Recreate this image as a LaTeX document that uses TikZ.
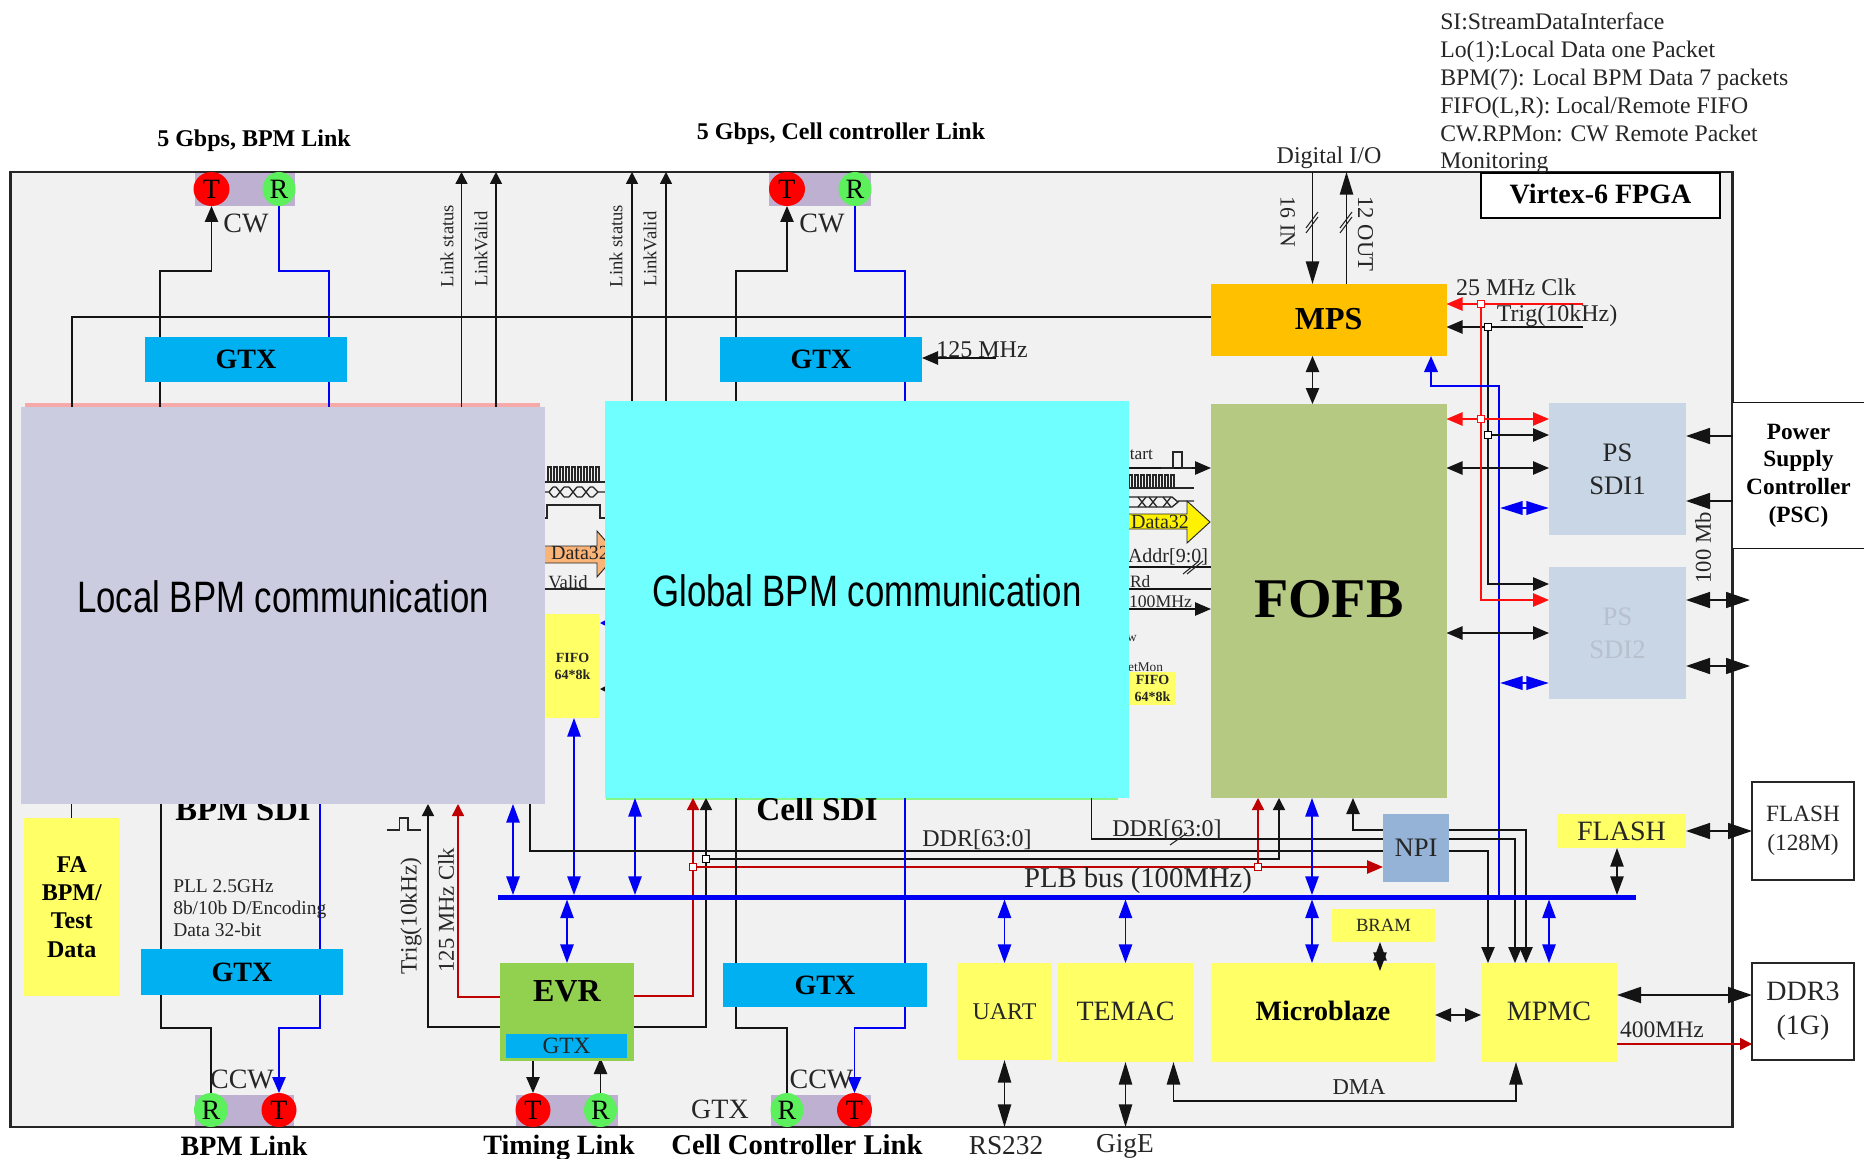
\documentclass[tikz,border=0pt]{standalone}
\usepackage{fontspec}
\setmainfont{Liberation Serif}
\newfontfamily\narrowsans[FakeStretch=0.79]{Liberation Sans}
\usetikzlibrary{arrows.meta,shapes.geometric}
\pgfdeclarelayer{framelayer}
\pgfdeclarelayer{lines}
\pgfdeclarelayer{over}
\pgfsetlayers{framelayer,lines,main,over}
\definecolor{txc}{HTML}{262626}
\definecolor{fr}{HTML}{F1F1F1}
\definecolor{gtxc}{HTML}{00B0F0}
\definecolor{ye}{HTML}{FFFF66}
\definecolor{psb}{HTML}{C8D6E6}
\definecolor{busb}{HTML}{0000F5}
\definecolor{barc}{HTML}{BEB0D0}
\definecolor{redc}{HTML}{FF1010}
\definecolor{dred}{HTML}{C00000}
\definecolor{grn}{HTML}{5CF05C}
\tikzset{
  bxs/.style={rectangle,inner sep=0,outer sep=0,text=txc},
  tx/.style={font=\fontsize{#1}{#1}\selectfont,inner sep=0,outer sep=0,text=txc},
  bd/.style={font=\fontsize{#1}{#1}\selectfont\bfseries,inner sep=0,outer sep=0,text=black},
  blk/.style={draw=black!92,line width=1.1pt},
  blu/.style={draw=busb,line width=1.1pt},
  redl/.style={draw=redc,line width=1.1pt},
  dredl/.style={draw=dred,line width=1.1pt},
  tipL/.style={>={Triangle[length=18pt,width=12pt]}},
  tipM/.style={>={Triangle[length=12pt,width=10pt]}},
  tipS/.style={>={Triangle[length=9pt,width=9pt]}},
  tipB/.style={>={Triangle[length=14pt,width=10pt]}},
  tipD/.style={>={Triangle[length=17pt,width=10pt]}},
  wave/.style={draw=black!85,line width=1pt},
  sqnode/.style={rectangle,inner sep=0,outer sep=0,minimum size=5pt,fill=white,line width=.9pt},
  pinnode/.style={ellipse,inner sep=0,outer sep=0,text=black,font=\fontsize{21}{21}\selectfont},
}
\newcommand{\mybox}[7]{%
  \pgfmathsetmacro{\bxc}{(#2+#4)/2}\pgfmathsetmacro{\byc}{(#3+#5)/2}%
  \pgfmathsetmacro{\bxw}{(#4-#2)*0.75}\pgfmathsetmacro{\bxh}{(#5-#3)*0.75}%
  \node[bxs,#6,minimum width=\bxw pt,minimum height=\bxh pt] (#1) at (\bxc,\byc) {#7};}
\newcommand{\mypin}[5]{%
  \pgfmathsetmacro{\pw}{#3*0.75}%
  \node[pinnode,fill=#4,minimum width=\pw pt,minimum height=25.5pt] (#1) at #2 {#5};}
\begin{document}
\begin{tikzpicture}[x=0.75pt,y=-0.75pt]
\useasboundingbox (0,0) rectangle (1864,1159);
% ---------- background layer
\begin{pgfonlayer}{framelayer}
  \fill[white] (0,0) rectangle (1864,1159);
  \mybox{frame}{10.5}{172}{1732.5}{1127}{fill=fr}{}
  \mybox{pinkstrip}{24.5}{403}{540}{408}{fill=red!30!fr}{}
  \mybox{greenstrip}{606}{797}{1118}{800}{fill=green!45!fr}{}
  \mybox{lnkA}{194.5}{172}{295}{206}{fill=barc}{}
  \mybox{lnkB}{769}{172}{871}{206}{fill=barc}{}
  \mybox{lnkC}{195}{1095}{294}{1127}{fill=barc}{}
  \mybox{lnkD}{516}{1095}{617.5}{1127}{fill=barc}{}
  \mybox{lnkE}{771}{1095}{870.5}{1127}{fill=barc}{}
\end{pgfonlayer}
% ---------- blocks
\mybox{gtxa}{145}{337}{347}{382}{fill=gtxc,bd=21}{GTX}
\mybox{gtxb}{720}{337}{922}{382}{fill=gtxc,bd=21}{GTX}
\mybox{gtxc}{141}{949}{343}{995}{fill=gtxc,bd=21}{GTX}
\mybox{gtxd}{723}{963}{927}{1007}{fill=gtxc,bd=21}{GTX}
\mybox{evr}{500}{963}{634}{1061}{fill={rgb,255:red,146;green,208;blue,80},bd=24,text depth=31pt}{EVR}
\mybox{evrg}{506}{1034}{627}{1058}{fill=gtxc,tx=17.5}{GTX}
\mybox{mps}{1211}{284}{1446.5}{356}{fill={rgb,255:red,255;green,192;blue,0},bd=24,text depth=2pt}{MPS}
\mybox{fofb}{1211}{404}{1446.5}{798}{fill={rgb,255:red,181;green,201;blue,131},bd=42,text depth=3pt}{FOFB}
\mybox{sdia}{1549}{403}{1686}{535}{fill=psb,font=\fontsize{20}{25}\selectfont,align=center}{PS\\SDI1}
\mybox{sdib}{1549}{567}{1686}{699}{fill=psb,text={rgb,255:red,185;green,192;blue,205},font=\fontsize{20}{25}\selectfont,align=center}{PS\\SDI2}
\mybox{fa}{24}{818}{119.5}{996}{fill=ye,font=\fontsize{18}{21.2}\selectfont\bfseries,align=center,text=black}{FA\\BPM/\\Test\\Data}
\mybox{fifol}{545}{614}{600}{718}{fill=ye,font=\fontsize{10.5}{12.7}\selectfont\bfseries,align=center}{FIFO\\64*8k}
\mybox{fifor}{1129}{672}{1176}{705}{fill=ye,font=\fontsize{10.5}{12.7}\selectfont\bfseries,align=center}{FIFO\\64*8k}
\mybox{npi}{1383}{814}{1449}{882}{fill={rgb,255:red,149;green,179;blue,215},tx=20}{NPI}
\mybox{flash}{1557}{814}{1686}{848}{fill=ye,tx=21}{FLASH}
\mybox{bram}{1332}{909}{1435}{942}{fill=ye,tx=14}{BRAM}
\mybox{uart}{957}{963}{1052}{1060}{fill=ye,tx=18}{UART}
\mybox{temac}{1058}{963}{1193}{1062}{fill=ye,tx=21,text depth=2pt}{TEMAC}
\mybox{mblaze}{1211}{963}{1435}{1062}{fill=ye,bd=21,text depth=3pt}{Microblaze}
\mybox{mpmc}{1481}{963}{1617}{1062}{fill=ye,tx=21,text depth=2pt}{MPMC}
\mybox{flashx}{1752}{782}{1854}{880}{draw=black!85,line width=1.1pt,fill=white,font=\fontsize{17.5}{21.5}\selectfont,align=center}{FLASH\\(128M)}
\mybox{ddr}{1752}{963}{1854}{1060}{draw=black!85,line width=1.1pt,fill=white,font=\fontsize{21}{25.5}\selectfont,align=center}{DDR3\\(1G)}
\mybox{virtex}{1481}{173}{1720}{218}{draw=black,line width=1.1pt,fill=white,bd=21,text depth=3pt}{Virtex-6 FPGA}
\mybox{psc}{1733}{403}{1864}{548}{fill=white,font=\fontsize{17.5}{20.8}\selectfont\bfseries,align=center,text=black,text width=96pt}{Power\\Supply\\Controller\\(PSC)}
\mybox{bus}{498}{895}{1636}{899.5}{fill=busb}{}
% link pins
\mypin{pinTa}{(211.5,189)}{36}{red}{T}
\mypin{pinRa}{(279,189)}{33}{grn}{R}
\mypin{pinTb}{(787,189)}{36}{red}{T}
\mypin{pinRb}{(855,189)}{33}{grn}{R}
\mypin{pinRc}{(211,1110)}{34}{grn}{R}
\mypin{pinTc}{(279,1110)}{35}{red}{T}
\mypin{pinTd}{(533,1110)}{35}{red}{T}
\mypin{pinRd}{(600.5,1110)}{33}{grn}{R}
\mypin{pinRe}{(787,1110)}{33}{grn}{R}
\mypin{pinTe}{(854.5,1110)}{35}{red}{T}
% squares
\node[sqnode,draw=redc] (sqa) at (1481,304) {};
\node[sqnode,draw=black] (sqb) at (1488,327) {};
\node[sqnode,draw=redc] (sqc) at (1481,419) {};
\node[sqnode,draw=black] (sqd) at (1488,435) {};
\node[sqnode,draw=dred] (sqe) at (693,867) {};
\node[sqnode,draw=black] (sqf) at (706,859) {};
\node[sqnode,draw=dred] (sqg) at (1258,867) {};
% free ends
\coordinate (clkIn) at (1583,304);
\coordinate (trigIn) at (1583,327);
\coordinate (extC) at (1750,600);
\coordinate (extD) at (1750,666);
\coordinate (bramTip) at (1380,971);
\coordinate (clkGtx) at (996,358);
\coordinate (blueA) at (1500,508);
\coordinate (blueB) at (1500,683);
% ---------- cover blocks
\begin{pgfonlayer}{over}
  \mybox{local}{20.5}{407}{545}{804}{fill={rgb,255:red,203;green,204;blue,224}}{}
  \mybox{global}{605}{401}{1129}{798}{fill={rgb,255:red,112;green,255;blue,255}}{}
  \node[font=\fontsize{33}{33}\narrowsans,text=black,inner sep=0] (localT) at (283,597) {Local BPM communication};
  \node[font=\fontsize{33}{33}\narrowsans,text=black,inner sep=0] (globalT) at (867,591) {Global BPM communication};
\end{pgfonlayer}
% ---------- connectors
\begin{pgfonlayer}{lines}
  \draw[line width=2pt,draw=black!85] (frame.north west) rectangle (frame.south east);
  \draw[blk] (psc.north west) -- (psc.north east) (psc.south west) -- (psc.south east);
  % top BPM link
  \draw[blk,tipM,->] (gtxa.north -| 160,0) -- (160,271) -| (pinTa.south);
  \draw[blu] (pinRa.south) -- (279,271) -| (gtxa.north -| 329,0);
  \draw[blk] (gtxa.south -| 160,0) -- (local.north -| 160,0);
  \draw[blu] (gtxa.south -| 329,0) -- (local.north -| 329,0);
  \draw[blk] (mps.west |- 0,317) -| (local.north -| 72,0);
  \draw[blk,tipS,->] (local.north -| 461.5,0) -- (frame.north -| 461.5,0);
  \draw[blk,tipS,->] (local.north -| 496,0) -- (frame.north -| 496,0);
  % top cell link
  \draw[blk,tipM,->] (gtxb.north -| 736,0) -- (736,271) -| (pinTb.south);
  \draw[blu] (pinRb.south) -- (855,271) -| (gtxb.north -| 905,0);
  \draw[blk] (gtxb.south -| 736,0) -- (global.north -| 736,0);
  \draw[blu] (gtxb.south -| 905,0) -- (global.north -| 905,0);
  \draw[blk,tipS,->] (global.north -| 632,0) -- (frame.north -| 632,0);
  \draw[blk,tipS,->] (global.north -| 666,0) -- (frame.north -| 666,0);
  \draw[blk,tipM,->] (clkGtx) -- (gtxb.east |- clkGtx);
  % MPS
  \draw[blk,tipD,->] (frame.north -| 1312.5,0) -- (mps.north -| 1312.5,0);
  \draw[blk,tipD,->] (mps.north -| 1346.5,0) -- (frame.north -| 1346.5,0);
  \draw[blk,tipM,<->] (mps.south -| 1312.5,0) -- (fofb.north -| 1312.5,0);
  \draw[redl,tipM,->] (clkIn) -- (mps.east |- clkIn);
  \draw[blk,tipM,->] (trigIn) -- (mps.east |- trigIn);
  \draw[redl] (sqa) -- (sqc);
  \draw[blk] (sqb) -- (sqd);
  \draw[blu,line width=1.8pt,tipM,->] (bus.north -| 1499,0) -- (1499,386) -| (mps.south -| 1431,0);
  % FOFB to PS
  \draw[redl,tipM,<->] (fofb.east |- sqc) -- (sdia.west |- sqc);
  \draw[blk,tipM,->] (sqd) -- (sdia.west |- sqd);
  \draw[blk,tipM,<->] (fofb.east |- 0,468) -- (sdia.west |- 0,468);
  \draw[blu,line width=2pt,tipD,<->] (blueA) -- (sdia.west |- blueA);
  \draw[blk,tipM,->] (sqd) |- (sdib.west |- 0,584);
  \draw[redl,tipM,->] (sqc) |- (sdib.west |- 0,600);
  \draw[blk,tipM,<->] (fofb.east |- 0,633) -- (sdib.west |- 0,633);
  \draw[blu,line width=2pt,tipD,<->] (blueB) -- (sdib.west |- blueB);
  % PSC
  \draw[blk,tipL,->] (psc.west |- 0,436) -- (sdia.east |- 0,436);
  \draw[blk,tipL,->] (psc.west |- 0,501) -- (sdia.east |- 0,501);
  \draw[blk,tipL,<->] (sdib.east |- extC) -- (extC);
  \draw[blk,tipL,<->] (sdib.east |- extD) -- (extD);
  % side signals into FOFB
  \draw[blk,tipM,->] (global.east |- 0,468) -- (fofb.west |- 0,468);
  \draw[blk] (global.east |- 0,567) -- (fofb.west |- 0,567);
  \draw[blk] (global.east |- 0,589) -- (fofb.west |- 0,589);
  \draw[blk,tipM,->] (global.east |- 0,609) -- (fofb.west |- 0,609);
  % left bottom
  \draw[blk] (local.south -| fa.north) -- (fa.north);
  \draw[blk] (local.south -| 161,0) -- (gtxc.north -| 161,0);
  \draw[blu] (local.south -| 320,0) -- (gtxc.north -| 320,0);
  \draw[blk] (gtxc.south -| 161,0) -- (161,1028) -| (pinRc.north);
  \draw[blu,tipM,->] (gtxc.south -| 320,0) -- (320,1028) -| (pinTc.north);
  % EVR
  \draw[blk,tipS,->] (evr.west |- 0,1027) -| (local.south -| 428,0);
  \draw[dredl,tipS,->] (evr.west |- 0,997) -| (local.south -| 458,0);
  \draw[dredl,tipS,->] (evr.east |- 0,996) -| (global.south -| 693,0);
  \draw[blk,tipS,->] (evr.east |- 0,1027) -| (global.south -| 706,0);
  \draw[blu,line width=1.3pt,tipB,<->] (bus.south -| evr.north) -- (evr.north);
  \draw[blk,tipM,->] (evrg.south -| pinTd.north) -- (pinTd.north);
  \draw[blk,tipM,->] (pinRd.north) -- (evrg.south -| pinRd.north);
  % bus ties
  \draw[blu,line width=1.3pt,tipB,<->] (local.south -| 513,0) -- (bus.north -| 513,0);
  \draw[blu,line width=1.3pt,tipB,<->] (fifol.south -| 574,0) -- (bus.north -| 574,0);
  \draw[blu,line width=1.3pt,tipB,<->] (global.south -| 635,0) -- (bus.north -| 635,0);
  \draw[blk] (local.south -| 530,0) |- (npi.west |- 0,851);
  \draw[blk,tipS,->] (sqf) -| (fofb.south -| 1279,0);
  \draw[dredl,tipM,->] (sqe) -- (npi.west |- sqe);
  \draw[dredl,tipS,->] (sqg) -- (fofb.south -| sqg);
  \draw[blk] (global.south -| 1091.5,0) |- (npi.west |- 0,839);
  \draw[blk,tipM,->] (npi.west |- 0,830) -| (fofb.south -| 1353,0);
  \draw[blu,line width=1.3pt,tipB,<->] (fofb.south -| 1312,0) -- (bus.north -| 1312,0);
  \draw[blu,line width=1.3pt,tipB,<->] (bus.south -| 1312,0) -- (mblaze.north -| 1312,0);
  % bottom cell link
  \draw[blk] (global.south -| 736,0) -- (gtxd.north -| 736,0);
  \draw[blu] (global.south -| 905,0) -- (gtxd.north -| 905,0);
  \draw[blk] (gtxd.south -| 736,0) -- (736,1028) -| (pinRe.north);
  \draw[blu,tipM,->] (gtxd.south -| 905,0) -- (905,1028) -| (pinTe.north);
  % peripherals
  \draw[blu,line width=1.3pt,tipB,<->] (bus.south -| uart.north) -- (uart.north);
  \draw[blu,line width=1.3pt,tipB,<->] (bus.south -| temac.north) -- (temac.north);
  \draw[blu,line width=1.3pt,tipB,<->] (bus.south -| mpmc.north) -- (mpmc.north);
  \draw[blk,tipD,<->] (uart.south) -- (frame.south -| uart.south);
  \draw[blk,tipD,<->] (temac.south) -- (frame.south -| temac.south);
  \draw[blk,line width=1.4pt,tipD,<->] (temac.south -| 1173.5,0) -- (1173.5,1101) -| (mpmc.south -| 1516,0);
  \draw[blk,tipM,->] (npi.east |- 0,830) -| (mpmc.north -| 1526,0);
  \draw[blk,tipM,->] (npi.east |- 0,839) -| (mpmc.north -| 1515,0);
  \draw[blk,tipM,->] (npi.east |- 0,851) -| (mpmc.north -| 1488,0);
  \draw[blk,tipB,<->] (flash.south -| 1617,0) -- (bus.north -| 1617,0);
  \draw[blk,tipL,<->] (flash.east) -- (flashx.west);
  \draw[blk,line width=1.4pt,tipL,<->] (mpmc.east |- 0,995) -- (ddr.west |- 0,995);
  \draw[dredl,tipS,->] (mpmc.east |- 0,1044) -- (ddr.west |- 0,1044);
  \draw[blk,line width=1.4pt,tipM,<->] (mblaze.east |- 0,1015) -- (mpmc.west |- 0,1015);
  % small tips into the FIFO
  \draw[blu,tipS,->] (global.west |- 0,623) -- (fifol.east |- 0,623);
  \draw[blk,tipS,->] (global.west |- 0,689) -- (fifol.east |- 0,689);
\end{pgfonlayer}
\draw[blk,tipB,<->] (bram.south -| bramTip) -- (bramTip);
% ---------- waveforms and data arrows
\foreach \i in {0,...,8} \draw[wave] (548+6*\i,482) -- ++(0,-15) -- ++(3,0) -- ++(0,15) -- ++(3,0);
\draw[wave] (545,482) -- (605,482);
\draw[wave] (545,492) -- (549,492) -- (553,487) (549,492) -- (553,497);
\draw[wave] (553,487) -- (556,487) (553,497) -- (556,497) (564,487) -- (569,487) (564,497) -- (569,497) (577,487) -- (582,487) (577,497) -- (582,497) (590,487) -- (593,487) (590,497) -- (593,497) (593,487) -- (598,492) -- (593,497) (598,492) -- (605,492);
\foreach \c in {560,573,586} \draw[wave] (\c-4,487) -- (\c+4,497) (\c-4,497) -- (\c+4,487);
\draw[wave] (545,518) -- (547,518) -- (547,505) -- (600,505) -- (600,518) -- (605,518);
\fill[fill={rgb,255:red,250;green,180;blue,120},draw=black!85,line width=.7pt] (540,546) -- (597,546) -- (597,531) -- (617,554) -- (597,577) -- (597,563) -- (540,563) -- cycle;
\node[tx=15] (dataL) at (580,553) {Data32};
\node[tx=14] (validL) at (568,582) {Valid};
\draw[wave] (545,589) -- (605,589);
% right waveforms
\draw[wave] (1161,468) -- (1173,468) -- (1173,452) -- (1182,452) -- (1182,468) -- (1192,468);
\foreach \i in {0,...,7} \draw[wave] (1129+6*\i,488) -- ++(0,-13) -- ++(3,0) -- ++(0,13) -- ++(3,0);
\draw[wave] (1129,488) -- (1194,488);
\draw[wave] (1129,497) -- (1172,497) -- (1178,502) -- (1172,507) -- (1129,507) (1178,501) -- (1194,501);
\foreach \c in {1142,1153,1167} \draw[wave] (\c-4,497) -- (\c+4,507) (\c-4,507) -- (\c+4,497);
\fill[fill=yellow,draw=black!85,line width=.7pt] (1125,514) -- (1187,514) -- (1187,501) -- (1210,522) -- (1187,543) -- (1187,529) -- (1125,529) -- cycle;
\node[tx=15] (dataR) at (1160,522) {Data32};
% slashes
\draw[wave,line width=.8pt] (1306,228) -- (1318,212) (1306,233) -- (1318,217);
\draw[wave,line width=.8pt] (1340,228) -- (1352,212) (1340,233) -- (1352,217);
\draw[wave,line width=.8pt] (1170,845) -- (1187,833);
\draw[wave,line width=.8pt] (1183,574) -- (1199,561) (1187,574) -- (1203,561);
% pulse near Trig
\draw[wave,line width=1.1pt] (386.5,830) -- (399.5,830) -- (399.5,818) -- (408,818) -- (408,830) -- (421,830);
% ---------- labels
\node[bd=18] (t1) at (254,141) {5 Gbps, BPM Link};
\node[bd=18] (t2) at (841,133.5) {5 Gbps, Cell controller Link};
\node[tx=18] (dio) at (1329,158) {Digital I/O};
\node[anchor=north west,align=left,font=\fontsize{17.8}{20.9}\selectfont,inner sep=0,text=txc] (legend) at (1440,12.6) {SI:StreamDataInterface\\Lo(1):Local Data one Packet\\BPM(7): Local BPM Data 7 packets\\FIFO(L,R): Local/Remote FIFO\\CW.RPMon: CW Remote Packet\\Monitoring};
\node[tx=21] (cwa) at (246,223) {CW};
\node[tx=21] (cwb) at (822,223) {CW};
\node[tx=21] (ccwa) at (242,1079) {CCW};
\node[tx=21] (ccwb) at (821.5,1079) {CCW};
\node[tx=14,rotate=90] (lsa) at (447,246) {Link status};
\node[tx=14,rotate=90] (lva) at (481,249) {LinkValid};
\node[tx=14,rotate=90] (lsb) at (616,246) {Link status};
\node[tx=14,rotate=90] (lvb) at (650,249) {LinkValid};
\node[tx=18] (mhz) at (982,350) {125 MHz};
\node[tx=16.3,rotate=-90] (in16) at (1287.6,222) {16 IN};
\node[tx=17,rotate=-90] (out12) at (1365.6,234) {12 OUT};
\node[tx=18] (clk25) at (1516,287) {25 MHz Clk};
\node[tx=18] (trigr) at (1557,316) {Trig(10kHz)};
\node[tx=17,rotate=90] (mb100) at (1703,548) {100 Mb};
\node[tx=13,anchor=east] (startT) at (1153,455) {tart};
\node[tx=15,anchor=west] (addr) at (1128,557) {Addr[9:0]};
\node[tx=13,anchor=west] (rdT) at (1130,582) {Rd};
\node[tx=13.3,anchor=west] (mhz100) at (1129,602) {100MHz};
\node[tx=10] (wT) at (1132,639) {w};
\node[tx=10,anchor=east] (etm) at (1163,667) {etMon};
\node[bd=24.5] (bpmsdi) at (243,810) {BPM SDI};
\node[bd=25] (cellsdi) at (817,809) {Cell SDI};
\node[font=\fontsize{14.6}{16.5}\selectfont,anchor=north west,align=left,inner sep=0,text=txc] (pll) at (173,879) {PLL 2.5GHz\\8b/10b D/Encoding\\Data 32-bit};
\node[tx=17.5,rotate=90] (trigv) at (411,916) {Trig(10kHz)};
\node[tx=17,rotate=90] (clkv) at (446,910) {125 MHz Clk};
\node[tx=18] (ddra) at (977,840) {DDR[63:0]};
\node[tx=18] (ddrb) at (1167,830) {DDR[63:0]};
\node[tx=21.5] (plb) at (1138,881) {PLB bus (100MHz)};
\node[tx=17] (dma) at (1359,1087) {DMA};
\node[tx=17.7] (mhz400) at (1662,1030) {400MHz};
\node[tx=21] (gtxl) at (720,1109) {GTX};
\node[bd=21] (l1) at (244,1145.5) {BPM Link};
\node[bd=21] (l2) at (559,1147.5) {Timing Link};
\node[bd=21.5] (l3) at (797,1145) {Cell Controller Link};
\node[tx=20.5] (l4) at (1006,1145.5) {RS232};
\node[tx=20.5] (l5) at (1125,1146.5) {GigE};
\end{tikzpicture}
\end{document}
